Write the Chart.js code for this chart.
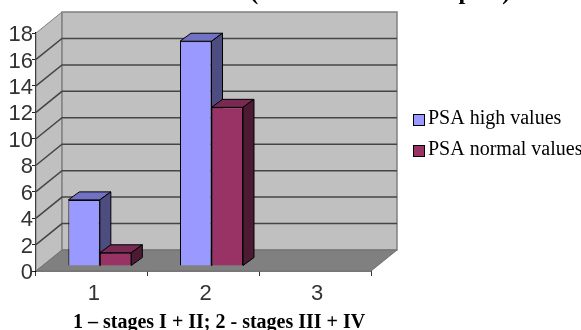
<!DOCTYPE html>
<html>
<head>
<meta charset="utf-8">
<style>
  html, body { margin: 0; padding: 0; background: #fff; overflow: hidden; }
</style>
<script src="https://cdn.jsdelivr.net/npm/chart.js@4"></script>
</head>
<body>
<canvas id="grafico" width="581" height="330"></canvas>
<script>
const categories = ['1', '2', '3'];
const yTicks = [0, 2, 4, 6, 8, 10, 12, 14, 16, 18];
const psaHigh = [5, 17, null];
const psaNormal = [1, 12, null];
const caption = '1 \u2013 stages I + II; 2 - stages III + IV';
// the heading is cut off by the top edge of the picture, only this part can be made out
const topText = '(metastasis and relapses)';

// depth of the box and of the bars
const wallDx = 26, wallDy = -21;
const barShiftX = 8, barShiftY = -5;
const barDx = 11, barDy = -8;

function poly(ctx, pts, fill, stroke, lw) {
  ctx.beginPath();
  pts.forEach((p, i) => i ? ctx.lineTo(p[0], p[1]) : ctx.moveTo(p[0], p[1]));
  ctx.closePath();
  ctx.fillStyle = fill;
  ctx.fill();
  if (stroke) {
    ctx.strokeStyle = stroke;
    ctx.lineWidth = lw || 1;
    ctx.stroke();
  }
}

const box3d = {
  id: 'box3d',
  beforeDatasetsDraw(chart) {
    const ctx = chart.ctx;
    const { left, right } = chart.chartArea;
    const y = chart.scales.y;
    const y0 = y.getPixelForValue(0), yMax = y.getPixelForValue(18);

    ctx.save();
    poly(ctx, [[left, yMax], [left + wallDx, yMax + wallDy], [left + wallDx, y0 + wallDy], [left, y0]], '#c0c0c0', '#808080');
    poly(ctx, [[left + wallDx, yMax + wallDy], [right + wallDx, yMax + wallDy], [right + wallDx, y0 + wallDy], [left + wallDx, y0 + wallDy]], '#c0c0c0', '#808080', 1.5);
    poly(ctx, [[left, y0], [left + wallDx, y0 + wallDy], [right + wallDx, y0 + wallDy], [right, y0]], '#808080', '#707070');

    ctx.strokeStyle = '#454545';
    ctx.lineWidth = 1.5;
    yTicks.forEach(t => {
      if (t === 0 || t === 18) return;
      const py = y.getPixelForValue(t);
      ctx.beginPath();
      ctx.moveTo(left, py);
      ctx.lineTo(left + wallDx, py + wallDy);
      ctx.lineTo(right + wallDx, py + wallDy);
      ctx.stroke();
    });
    ctx.restore();

    // bars are pushed into the box, library draws the front faces
    ctx.save();
    ctx.translate(barShiftX, barShiftY);
    chart.data.datasets.forEach((ds, i) => {
      chart.getDatasetMeta(i).data.forEach((bar, j) => {
        if (ds.data[j] === null) return;
        const x1 = bar.x - bar.width / 2, x2 = bar.x + bar.width / 2;
        poly(ctx, [[x1, bar.y], [x1 + barDx, bar.y + barDy], [x2 + barDx, bar.y + barDy], [x2, bar.y]], ds.topColor, '#000', 1);
        poly(ctx, [[x2, bar.y], [x2 + barDx, bar.y + barDy], [x2 + barDx, bar.base + barDy], [x2, bar.base]], ds.sideColor, '#000', 1);
      });
    });
  },
  afterDatasetsDraw(chart) {
    chart.ctx.restore();
  },
  afterDraw(chart) {
    const ctx = chart.ctx;
    ctx.save();
    ctx.fillStyle = '#000';
    ctx.textAlign = 'left';
    ctx.textBaseline = 'alphabetic';

    ctx.font = 'bold 24.6px "Liberation Serif"';
    ctx.fillText(topText, 250, -1);
    ctx.font = 'bold 20px "Liberation Serif"';
    ctx.fillText(caption, 73, 328);

    // legend
    ctx.font = '20px "Liberation Serif"';
    chart.data.datasets.forEach((ds, i) => {
      const rowY = 114 + i * 31;
      ctx.fillStyle = ds.backgroundColor;
      ctx.strokeStyle = '#000';
      ctx.lineWidth = 1;
      ctx.fillRect(413.5, rowY + 0.5, 11, 11);
      ctx.strokeRect(413.5, rowY + 0.5, 11, 11);
      ctx.fillStyle = '#000';
      ctx.fillText(ds.label, 428, rowY + 10);
    });
    ctx.restore();
  }
};

new Chart(document.getElementById('grafico'), {
  type: 'bar',
  data: {
    labels: categories,
    datasets: [
      { label: 'PSA high values', data: psaHigh, backgroundColor: '#9999ff', topColor: '#7272c4', sideColor: '#4d4d80', borderColor: '#000', borderWidth: 1 },
      { label: 'PSA normal values', data: psaNormal, backgroundColor: '#993366', topColor: '#7a2952', sideColor: '#4d1a33', borderColor: '#000', borderWidth: 1 }
    ]
  },
  plugins: [box3d],
  options: {
    responsive: false,
    animation: false,
    layout: { padding: { top: 33, right: 210 } },
    datasets: { bar: { barPercentage: 1, categoryPercentage: 0.564, clip: false } },
    plugins: {
      tooltip: { enabled: false },
      legend: { display: false }
    },
    scales: {
      x: {
        offset: true,
        afterFit(s) { s.height = 59; },
        border: { color: '#000', width: 1.5 },
        grid: { drawOnChartArea: false, tickColor: '#333', tickLength: 5, offset: true },
        ticks: { color: '#333', font: { family: 'Liberation Sans', size: 22 }, padding: 5, labelOffset: 2 }
      },
      y: {
        min: 0,
        max: 18,
        afterFit(s) { s.width = 36; },
        afterBuildTicks(s) { s.ticks = yTicks.map(v => ({ value: v })); },
        border: { color: '#000', width: 1.5 },
        grid: { drawOnChartArea: false, tickColor: '#222', tickLength: 4 },
        ticks: { autoSkip: false, color: '#333', font: { family: 'Liberation Sans', size: 22 }, padding: -1, labelOffset: 2 }
      }
    }
  }
});
</script>
</body>
</html>
